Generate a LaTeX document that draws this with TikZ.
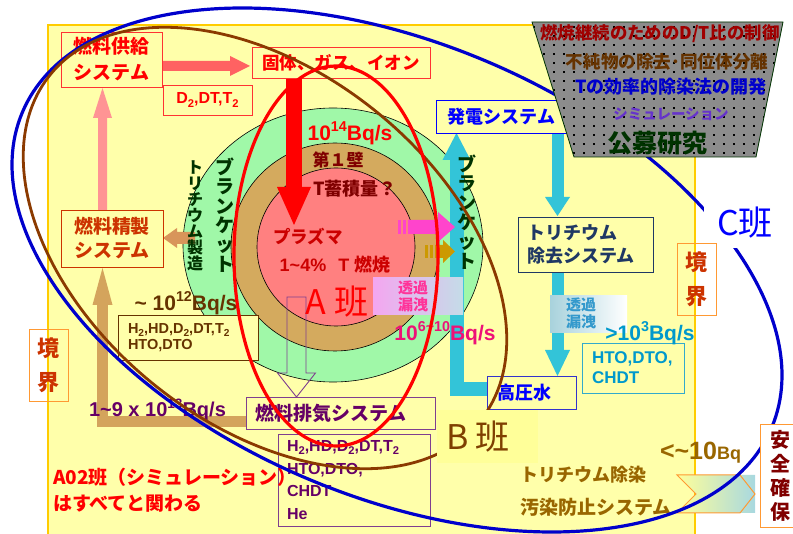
\documentclass[tikz,border=0pt]{standalone}
\usepackage{fontspec}
\setmainfont{Noto Sans CJK JP}
\newfontfamily\ar{Liberation Sans}
\usetikzlibrary{shapes.geometric}
\newcommand\fs[1]{\fontsize{#1}{#1}\selectfont}
\newcommand\fsl[2]{\fontsize{#1}{#2}\selectfont}
\newcommand\sbs[1]{\raisebox{-0.22em}{\scalebox{0.7}{#1}}}
\newcommand\sps[1]{\raisebox{0.42em}{\scalebox{0.68}{#1}}}
\definecolor{bgy}{HTML}{FFFFAA}
\definecolor{ybord}{HTML}{FFCC00}
\definecolor{cGrn}{HTML}{A0F8A8}
\definecolor{cTan}{HTML}{D4AA5E}
\definecolor{cPl}{HTML}{FF8080}
\definecolor{cCy}{HTML}{33C4D8}
\definecolor{cDG}{HTML}{003300}
\definecolor{cBr}{HTML}{663300}
\definecolor{cPu}{HTML}{660066}
\definecolor{cPuL}{HTML}{7F3F8F}
\definecolor{cDR}{HTML}{800000}
\definecolor{cDR2}{HTML}{A00000}
\definecolor{cRed2}{HTML}{CC0000}
\definecolor{cOR}{HTML}{CC3300}
\definecolor{cOrg}{HTML}{FF9933}
\definecolor{cNavy}{HTML}{1F3864}
\definecolor{cSky}{HTML}{0099CC}
\definecolor{cSky2}{HTML}{3399CC}
\definecolor{cSkyB}{HTML}{33AACC}
\definecolor{cMag}{HTML}{FF44CC}
\definecolor{cMagT}{HTML}{EE1177}
\definecolor{cPinkT}{HTML}{FF3399}
\definecolor{cGold}{HTML}{CC9900}
\definecolor{cGoldT}{HTML}{996600}
\definecolor{cTanA}{HTML}{D4A45C}
\definecolor{cTanB}{HTML}{D8955A}
\definecolor{cPkA}{HTML}{FF6262}
\definecolor{cPkB}{HTML}{FF9494}
\definecolor{cBlueE}{HTML}{0000CC}
\definecolor{cBrE}{HTML}{8B3A00}
\definecolor{cBrT}{HTML}{7F4000}
\definecolor{cGrayT}{HTML}{8C8C8C}
\definecolor{cViolet}{HTML}{6633CC}
\definecolor{cPkGr}{HTML}{F4A6F0}
\definecolor{cBlGr}{HTML}{C4DCE8}
\definecolor{cBlGr2}{HTML}{A8D2DC}
\definecolor{cYel}{HTML}{FFFF99}
\definecolor{cLB}{HTML}{A8D8E0}
\definecolor{cBY}{HTML}{FFFF99}
\definecolor{cBlueB}{HTML}{3333CC}
\begin{document}
\begin{tikzpicture}[x=1pt,y=-1pt,
  every node/.style={inner sep=0pt,outer sep=0pt},
  box/.style={draw,line width=0.9pt,fill=bgy,anchor=north west,align=center},
  lbox/.style={box,align=left},
  ring/.style={draw=black,line width=0.6pt}]
\useasboundingbox (0,0) rectangle (793,534);
\fill[white] (0,0) rectangle (793,534);
% yellow field
\fill[bgy] (48,25) rectangle (695,534);
\draw[ybord,line width=2.5pt] (48,534) -- (48,25) -- (695,25) -- (695,534);
% rings
\filldraw[ring,fill=cGrn] (333,245) ellipse (150 and 137);
\filldraw[ring,fill=cTan] (335,247) circle (104);
\filldraw[ring,fill=cPl] (336,247) circle (79);
% cyan L arrow up to power system
\draw[cCy,line width=14pt,line join=miter] (487,389) -- (456.5,389) -- (456.5,159);
\fill[cCy] (442.5,160) -- (470.5,160) -- (456.5,133) -- cycle;
% cyan down arrows
\fill[cCy] (551.5,133) rectangle (563.5,198);
\fill[cCy] (545,197) -- (570,197) -- (557.5,216) -- cycle;
\fill[cCy] (551.5,272) rectangle (563.5,351);
\fill[cCy] (545,350) -- (570,350) -- (557.5,376) -- cycle;
% red arrow
\fill[red] (286,78) rectangle (302,188);
\fill[red] (277,187) -- (311,187) -- (294,225) -- cycle;
% pink arrows
\fill[cPkA] (163,61) -- (230,61) -- (230,56) -- (250,66) -- (230,76) -- (230,71) -- (163,71) -- cycle;
\fill[cPkB] (98,210) -- (98,118) -- (93,118) -- (102.5,88) -- (112,118) -- (107,118) -- (107,210) -- cycle;
% tan L arrow
\draw[cTanA,line width=10.5pt,line join=miter] (246,421.5) -- (102.5,421.5) -- (102.5,300);
\fill[cTanA] (92.5,305) -- (112.5,305) -- (102.5,268) -- cycle;
% small tan arrow left
\fill[cTanB] (195,232) -- (177,232) -- (177,228) -- (163,238) -- (177,248) -- (177,244) -- (195,244) -- cycle;
% magenta arrow
\fill[cMag] (398,220) rectangle (401,234);
\fill[cMag] (403,220) rectangle (406,234);
\fill[cMag] (408,220) -- (438,220) -- (438,212) -- (455,227) -- (438,242) -- (438,234) -- (408,234) -- cycle;
% gold arrow
\fill[cGold] (425,245) rectangle (428,258);
\fill[cGold] (430,245) rectangle (433,258);
\fill[cGold] (435,245) -- (443,245) -- (443,240) -- (455,251.5) -- (443,263) -- (443,258) -- (435,258) -- cycle;
% purple hollow arrow
\draw[cPuL,line width=0.9pt] (287,297) -- (306,297) -- (306,373) -- (315.5,373) -- (296.5,397) -- (277.5,373) -- (287,373) -- cycle;
% gradient labels
\shade[left color=cPkGr,right color=cBlGr] (373,278) rectangle (463,315);
\shade[left color=cBlGr2,right color=white] (550,296) rectangle (627,333);
% chevron
\shade[left color=cYel,right color=cLB] (677,475) -- (755,475) -- (755,513) -- (677,513) -- (696,494) -- cycle;
\draw[cOrg,line width=1pt] (677,475) -- (740,475) -- (755,494) -- (740,513) -- (677,513) -- (696,494) -- cycle;
% boxes
\node[box,draw=red!80,text=red,minimum width=101pt,minimum height=55pt,font=\bfseries\fsl{19}{26}] (kyokyu) at (61,32) {燃料供給\\システム};
\node[box,draw=red!80,text=red,minimum width=178pt,minimum height=31pt,font=\bfseries\fs{17.5}] (kotai) at (252,47) {固体、ガス、イオン};
\node[box,draw=red!80,text=red,minimum width=89pt,minimum height=30pt,font=\bfseries\fs{16}\ar] (d2) at (163,85) {D\sbs{2},DT,T\sbs{2}};
\node[box,draw=cOR,text=cOR,minimum width=102pt,minimum height=57pt,font=\bfseries\fsl{19}{24}] (seisei) at (61,210) {燃料精製\\システム};
\node[lbox,draw=cBr,text=cBr,text width=120pt,inner xsep=10pt,minimum height=45pt,font=\bfseries\fsl{14.5}{16.5}\ar] (h2a) at (118,315) {H\sbs{2},HD,D\sbs{2},DT,T\sbs{2}\\HTO,DTO};
\node[lbox,draw=cPuL,text=cPu,text width=171pt,inner xsep=9pt,minimum height=32pt,font=\bfseries\fs{19}] (haiki) at (246,397) {燃料排気システム};
\node[lbox,draw=cPuL,text=cPu,text width=134pt,inner xsep=9pt,minimum height=92pt,font=\bfseries\fsl{16}{22.7}\ar] (h2b) at (278,434) {H\sbs{2},HD,D\sbs{2},DT,T\sbs{2}\\HTO,DTO,\\CHDT\\He};
\node[box,draw=blue,text=blue,minimum width=131pt,minimum height=33pt,font=\bfseries\fs{18}] (hatsuden) at (436,100) {発電システム};
\node[lbox,draw=cNavy,text=cNavy,text width=117pt,inner xsep=9pt,minimum height=55pt,font=\bfseries\fsl{18}{23}] (jokyo) at (518,217) {トリチウム\\除去システム};
\node[lbox,draw=cBlueB,text=blue,text width=69pt,inner xsep=10pt,minimum height=33pt,font=\bfseries\fs{18}] (koatsu) at (487,376) {高圧水};
\node[lbox,draw=cSkyB,text=cSky,text width=82pt,inner xsep=10pt,minimum height=50pt,font=\bfseries\fsl{17}{20}\ar] (hto) at (582,343) {HTO,DTO,\\CHDT};
\node[box,fill=none,draw=cOrg,text=cOR,minimum width=39pt,minimum height=72pt,font=\bfseries\fsl{22}{34}] (kyokaiL) at (29,329) {境\\界};
% text labels
\node[text=red,font=\bfseries\fs{21}\ar] (q14) at (350,133) {10\sps{14}Bq/s};
\node[text=cDR,font=\bfseries\fs{17}] (wall) at (338,160) {第１壁};
\node[text=cDR,font=\bfseries\fs{18}] (inv) at (355,189) {T蓄積量？};
\node[text=cRed2,font=\bfseries\fs{17.5}] (plasma) at (308,237) {プラズマ};
\node[text=cRed2,font=\bfseries\fs{18}] (burn) at (335,265) {{\ar 1\textasciitilde4\%}\hspace{12pt}{\ar T}\hspace{5pt}燃焼};
\node[text=red,font=\fs{34}] (aban) at (337,302) {A 班};
\node[text=cBr,font=\bfseries\fs{21}\ar] (q12) at (186,303) {\textasciitilde\ 10\sps{12}Bq/s};
\node[text=cPu,font=\bfseries\fs{20}\ar,anchor=west] (q13) at (89,410) {1\textasciitilde9 x 10\sps{13}Bq/s};
\node[text=cMagT,font=\bfseries\fs{21}\ar] (q610) at (445,333) {10\sps{6\textasciitilde10}Bq/s};
\node[text=cPinkT,font=\bfseries\fsl{15}{17},align=center] (leakA) at (413,296) {透過\\漏洩};
\node[text=cSky,font=\bfseries\fs{21}\ar] (q3) at (650,333) {>10\sps{3}Bq/s};
\node[text=cSky2,font=\bfseries\fsl{15}{17},align=center] (leakB) at (581,313) {透過\\漏洩};
\node[text=cDG,font=\bfseries\fsl{16}{16},align=center] (tprod) at (195,216) {ト\\リ\\チ\\ウ\\ム\\製\\造};
\node[text=cDG,font=\bfseries\fsl{19}{19.4},align=center] (blkL) at (225,215) {ブ\\ラ\\ン\\ケ\\ッ\\ト};
\node[text=cDG,font=\bfseries\fsl{19}{19.4},align=center] (blkR) at (467,212) {ブ\\ラ\\ン\\ケ\\ッ\\ト};
\node[text=red,font=\bfseries\fsl{19}{26},align=left,anchor=west] (a02) at (53,490) {A02班（シミュレーション）\\はすべてと関わる};
\node[text=cGoldT,font=\bfseries\fs{18},anchor=west] (decon) at (520,475) {トリチウム除染};
\node[text=cGoldT,font=\bfseries\fs{19},anchor=west] (prev) at (520,507) {汚染防止システム};
\node[text=cGoldT,font=\bfseries\ar,anchor=west] (q10) at (660,453) {{\fs{25}<\textasciitilde10}{\fs{18}Bq}};
% group ellipses
\draw[cBlueE,line width=3.2pt,rotate around={-22.8:(397,270)}] (397,270) ellipse (406.5 and 227.1);
\draw[cBrE,line width=2.8pt,rotate around={-38.8:(265,248)}] (265,248) ellipse (276 and 176);
\draw[red,line width=3.2pt] (336,256) ellipse (102 and 190);
% open call trapezoid
\begin{scope}
\clip (532,22) -- (783,22) -- (756,157) -- (574,157) -- cycle;
\fill[cGrayT] (530,20) rectangle (786,160);
\foreach \i in {0,...,25}{\foreach \j in {0,...,15}{\fill[black] ({533+\i*10},{26+\j*9}) rectangle ++(1.6,1.6);}}
\end{scope}
\draw[cDG,line width=0.8pt] (532,22) -- (783,22) -- (756,157) -- (574,157) -- cycle;
\node[text=cDR2,font=\bfseries\fs{17.4}] (t1) at (660,34) {燃焼継続のためのD/T比の制御};
\node[text=cBr,font=\bfseries\fs{17.6}] (t2) at (667,62) {不純物の除去･同位体分離};
\node[text=cBlueE,font=\bfseries\fs{18}] (t3) at (671,87) {Tの効率的除染法の開発};
\node[text=cViolet,font=\bfseries\fs{14.5}] (t4) at (671,114) {シミュレーション};
\node[text=cDG,font=\bfseries\fs{25}] (t5) at (657,143) {公募研究};
% team labels
\node[fill=cBY,minimum width=101pt,minimum height=53pt,anchor=north west] (bbox) at (437,410) {};
\node[text=cBrT,font=\fs{34}] (bban) at (478,437) {B 班};
\node[fill=white,text=blue,font=\fs{34},minimum width=82pt,minimum height=50pt] (cban) at (745,223) {C班};
\node[box,fill=none,draw=cOrg,text=cOR,minimum width=39pt,minimum height=72pt,font=\bfseries\fsl{22}{34}] (kyokaiR) at (677,243) {境\\界};
\node[box,fill=white,draw=cOrg,text=cDR,minimum width=40pt,minimum height=103pt,font=\bfseries\fsl{20}{24}] (anzen) at (760,424) {安\\全\\確\\保};
\end{tikzpicture}
\end{document}
